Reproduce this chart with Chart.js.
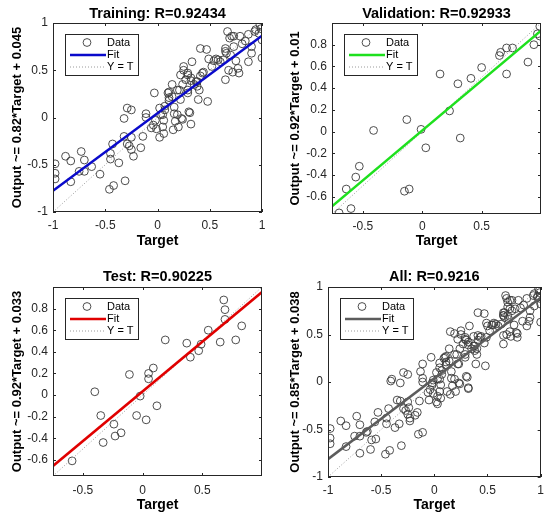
<!DOCTYPE html>
<html><head><meta charset="utf-8">
<script src="https://cdn.jsdelivr.net/npm/chart.js@4.4.1/dist/chart.umd.min.js"></script>
<style>
html,body{margin:0;padding:0;background:#fff;}
#wrap{position:relative;width:550px;height:521px;overflow:hidden;}
canvas{position:absolute;}
</style></head><body>
<div id="wrap">
<canvas id="c1" width="275" height="260" style="left:0;top:0;width:275px;height:260px"></canvas>
<canvas id="c2" width="275" height="260" style="left:275px;top:0;width:275px;height:260px"></canvas>
<canvas id="c3" width="275" height="261" style="left:0;top:260px;width:275px;height:261px"></canvas>
<canvas id="c4" width="275" height="261" style="left:275px;top:260px;width:275px;height:261px"></canvas>
</div>
<script>
// ---- data: [target, output] ----
const trainData = [
 [-0.98,-0.49],[-0.98,-0.59],[-0.98,-0.65],[-0.88,-0.41],[-0.83,-0.46],[-0.83,-0.68],[-0.73,-0.36],[-0.70,-0.45],
 [-0.75,-0.57],[-0.70,-0.57],[-0.63,-0.52],[-0.55,-0.60],[-0.46,-0.76],[-0.42,-0.72],[-0.31,-0.67],[-0.45,-0.44],
 [-0.45,-0.38],[-0.37,-0.48],[-0.43,-0.28],[-0.32,-0.20],[-0.29,-0.28],[-0.27,-0.30],[-0.25,-0.21],[-0.25,-0.34],
 [-0.23,-0.41],[-0.16,-0.32],[-0.32,-0.01],[-0.29,0.10],[-0.25,0.08],[-0.14,-0.20],[-0.11,0.04],[-0.11,0.00],
 [-0.06,-0.11],[-0.03,0.26],[-0.04,-0.08],[0.02,-0.21],[0.06,-0.17],[-0.01,-0.12],[0.05,-0.10],[0.03,0.03],[-0.02,-0.03],
 [0.07,0.12],[0.10,0.26],[0.11,0.21],[0.16,0.11],[0.17,-0.04],[0.19,0.03],[0.22,0.19],[0.24,-0.02],[0.24,0.35],
 [0.25,0.50],[0.14,0.35],[0.19,0.29],[0.29,0.26],[0.30,0.06],[0.32,-0.07],[0.32,0.39],[0.33,0.59],[0.29,0.45],
 [0.37,0.38],[0.40,0.29],[0.41,0.44],[0.43,0.47],[0.39,0.19],[0.41,0.73],[0.47,0.72],[0.48,0.17],[0.49,0.62],
 [0.52,0.54],[0.54,0.60],[0.60,0.59],[0.65,0.70],[0.65,0.73],[0.67,0.91],[0.65,0.40],[0.68,0.50],[0.73,0.86],
 [0.78,0.47],[0.77,0.52],[0.79,0.86],[0.84,0.81],[0.87,0.59],[0.90,0.75],[0.94,0.93],[0.97,0.89],[0.98,0.98],
 [1.00,0.82],[1.00,0.63],[0.73,0.75],[0.70,0.66],[0.63,0.61],[0.11,0.27],[0.56,0.62],[0.58,0.61],[0.66,0.68],
 [0.71,0.86],[0.87,0.88],[0.93,0.91],[0.99,0.94],[0.90,0.68],[0.72,0.48],[0.81,0.78],[0.69,0.84],[0.75,0.60],
 [0.25,0.54],[0.29,0.47],[0.22,0.45],[0.27,0.40],[0.32,0.42],[0.44,0.48],[0.38,0.38],[0.35,0.35],[0.21,0.29],
 [0.29,0.29],[0.38,0.33],[0.11,0.18],[0.14,0.22],[0.02,0.10],[0.07,0.08],[0.16,0.04],[0.05,0.03],[0.06,-0.03],
 [0.23,-0.01],[0.31,0.05],[0.20,-0.10],[0.15,-0.13]
];
const valData = [
 [-0.70,-0.75],[-0.60,-0.71],[-0.64,-0.53],[-0.56,-0.42],[-0.53,-0.32],[-0.41,0.01],[-0.13,0.11],[-0.15,-0.55],
 [-0.11,-0.53],[-0.01,0.02],[0.03,-0.15],[0.15,0.53],[0.23,0.19],[0.30,0.44],[0.32,-0.06],[0.41,0.49],
 [0.50,0.59],[0.65,0.70],[0.66,0.73],[0.71,0.77],[0.76,0.77],[0.71,0.53],[0.89,0.64],[0.94,0.80],
 [0.97,0.90],[0.99,0.88],[0.99,0.97]
];
const testData = [
 [-0.59,-0.61],[-0.40,0.03],[-0.35,-0.19],[-0.33,-0.44],[-0.24,-0.27],[-0.23,-0.38],[-0.18,-0.35],[-0.11,0.19],
 [-0.05,-0.19],[-0.02,-0.01],[0.03,-0.23],[0.05,0.20],[0.05,0.15],[0.09,0.25],[0.12,-0.10],[0.19,0.51],
 [0.37,0.48],[0.40,0.35],[0.47,0.41],[0.49,0.47],[0.55,0.60],[0.65,0.49],[0.68,0.88],[0.69,0.79],
 [0.69,0.70],[0.78,0.51],[0.83,0.64]
];
const allData = trainData.concat(valData, testData);

const titles = ['Training: R=0.92434','Validation: R=0.92933','Test: R=0.90225','All: R=0.9216'];
const yLabels = ['Output ~= 0.82*Target + 0.045','Output ~= 0.92*Target + 0.01','Output ~= 0.92*Target + 0.033','Output ~= 0.85*Target + 0.038'];
const fitSlopes = [0.82, 0.92, 0.92, 0.85];
const fitIntercepts = [0.045, 0.01, 0.033, 0.038];
const fitColors = ['#0a0acb','#1ee01e','#e00000','#5c5c5c'];
const axisLimits = [[-1,1],[-0.76,1.0],[-0.75,1.0],[-1,1]];
const ticksFull = [-1,-0.5,0,0.5,1];
const ticksHalf = [-0.5,0,0.5];
const ticksFine = [-0.6,-0.4,-0.2,0,0.2,0.4,0.6,0.8];
const xTickSets = [ticksFull, ticksHalf, ticksHalf, ticksFull];
const yTickSets = [ticksFull, ticksFine, ticksFine, ticksFull];
const legendLabels = ['Data','Fit','Y = T'];

Chart.defaults.font.family = '"Liberation Sans", Arial, Helvetica, sans-serif';
Chart.defaults.animation = false;

const boxPlugin = {
  id:'matlabBox',
  afterDatasetsDraw(chart){
    const {ctx, chartArea:a, scales:{x,y}} = chart;
    ctx.save();
    ctx.strokeStyle = '#262626'; ctx.lineWidth = 1;
    ctx.strokeRect(Math.round(a.left)+0.5, Math.round(a.top)+0.5, Math.round(a.width)-1, Math.round(a.height)-1);
    const tl = 3;
    ctx.beginPath();
    x.ticks.forEach(t => {
      const px = Math.round(x.getPixelForValue(t.value))+0.5;
      ctx.moveTo(px,a.bottom); ctx.lineTo(px,a.bottom-tl);
      ctx.moveTo(px,a.top); ctx.lineTo(px,a.top+tl);
    });
    y.ticks.forEach(t => {
      const py = Math.round(y.getPixelForValue(t.value))+0.5;
      ctx.moveTo(a.left,py); ctx.lineTo(a.left+tl,py);
      ctx.moveTo(a.right,py); ctx.lineTo(a.right-tl,py);
    });
    ctx.stroke();
    ctx.restore();
  }
};

const legendPlugin = {
  id:'insideLegend',
  afterDraw(chart){
    const {ctx, chartArea:a} = chart;
    const ds = chart.data.datasets;
    const bx = Math.round(a.left) + 12, by = Math.round(a.top) + 11, bw = 73, bh = 41;
    ctx.save();
    ctx.fillStyle = '#fff'; ctx.fillRect(bx,by,bw,bh);
    ctx.strokeStyle = '#262626'; ctx.lineWidth = 1; ctx.strokeRect(bx+0.5,by+0.5,bw,bh);
    ctx.font = '11px "Liberation Sans", Arial, sans-serif';
    ctx.textBaseline = 'middle'; ctx.textAlign = 'left';
    const rows = [8.5, 21, 33];
    ds.forEach((d,i) => {
      const yy = by + rows[i];
      ctx.beginPath();
      if (i === 0) {
        ctx.arc(bx+22, yy, 3.9, 0, 2*Math.PI);
        ctx.strokeStyle = d.borderColor; ctx.lineWidth = d.pointBorderWidth;
      } else {
        ctx.setLineDash(d.borderDash || []);
        ctx.moveTo(bx+5, yy); ctx.lineTo(bx+41, yy);
        ctx.strokeStyle = d.borderColor; ctx.lineWidth = d.borderWidth;
      }
      ctx.stroke(); ctx.setLineDash([]);
      ctx.fillStyle = '#000';
      ctx.fillText(d.label, bx+42, yy);
    });
    ctx.restore();
  }
};

// panel geometry (chart area inside each canvas)
const panels = [
  {id:'c1', data:trainData, W:275, H:260, left:53, right:262, top:23, bottom:212, tPadTop:5.3, tPadBot:0.3, yTitlePad:9.7, xTitlePad:10, xTickPad:6},
  {id:'c2', data:valData,   W:275, H:260, left:57, right:266, top:23, bottom:214, tPadTop:5.3, tPadBot:0.3, yTitlePad:12.9, xTitlePad:10, xTickPad:5},
  {id:'c3', data:testData,  W:275, H:261, left:53, right:262, top:27, bottom:216, tPadTop:8.6, tPadBot:1.0, yTitlePad:9.7, xTitlePad:7, xTickPad:7},
  {id:'c4', data:allData,   W:275, H:261, left:53, right:267, top:27, bottom:217, tPadTop:8.6, tPadBot:1.0, yTitlePad:12.2, xTitlePad:7, xTickPad:6}
];

panels.forEach((p, i) => {
  const [lo, hi] = axisLimits[i];
  const m = fitSlopes[i], b = fitIntercepts[i];
  const tickFont = {size:12};
  new Chart(document.getElementById(p.id), {
    type:'scatter',
    data:{datasets:[
      {label:legendLabels[0], data:p.data.map(d => ({x:d[0], y:d[1]})), pointStyle:'circle', pointRadius:3.9,
       pointBorderWidth:0.9, borderColor:'#3a3a3a', pointBorderColor:'#3a3a3a', backgroundColor:'rgba(0,0,0,0)', clip:0, order:3},
      {label:legendLabels[1], data:[{x:lo, y:m*lo+b},{x:hi, y:m*hi+b}], showLine:true, pointRadius:0,
       borderColor:fitColors[i], borderWidth:2.5, clip:0, order:1},
      {label:legendLabels[2], data:[{x:lo, y:lo},{x:hi, y:hi}], showLine:true, pointRadius:0,
       borderColor:'#9a9a9a', borderWidth:1, borderDash:[1,2], clip:0, order:2}
    ]},
    options:{
      responsive:false, animation:false,
      layout:{padding:{left:0, top:0, right:p.W - p.right, bottom:0}},
      plugins:{
        legend:{display:false}, tooltip:{enabled:false},
        title:{display:true, text:titles[i], fullSize:false, color:'#000',
               font:{size:14.5, weight:'bold'}, padding:{top:p.tPadTop, bottom:p.tPadBot}}
      },
      scales:{
        x:{type:'linear', min:lo, max:hi, grid:{display:false, drawTicks:false}, border:{display:false},
           ticks:{font:tickFont, color:'#262626', padding:p.xTickPad, maxRotation:0, autoSkip:false, callback:v => String(v)},
           afterBuildTicks:s => { s.ticks = xTickSets[i].map(v => ({value:v})); },
           afterFit:s => { s.height = p.H - p.bottom; },
           title:{display:true, text:'Target', color:'#000', font:{size:14, weight:'bold'}, padding:{top:0, bottom:p.xTitlePad}}},
        y:{type:'linear', min:lo, max:hi, grid:{display:false, drawTicks:false}, border:{display:false},
           ticks:{font:tickFont, color:'#262626', padding:5, autoSkip:false, callback:v => String(v)},
           afterBuildTicks:s => { s.ticks = yTickSets[i].map(v => ({value:v})); },
           afterFit:s => { s.width = p.left; },
           title:{display:true, text:yLabels[i], color:'#000', font:{size:13, weight:'bold'}, padding:{top:p.yTitlePad, bottom:0}}}
      }
    },
    plugins:[boxPlugin, legendPlugin]
  });
});
</script>
</body></html>
